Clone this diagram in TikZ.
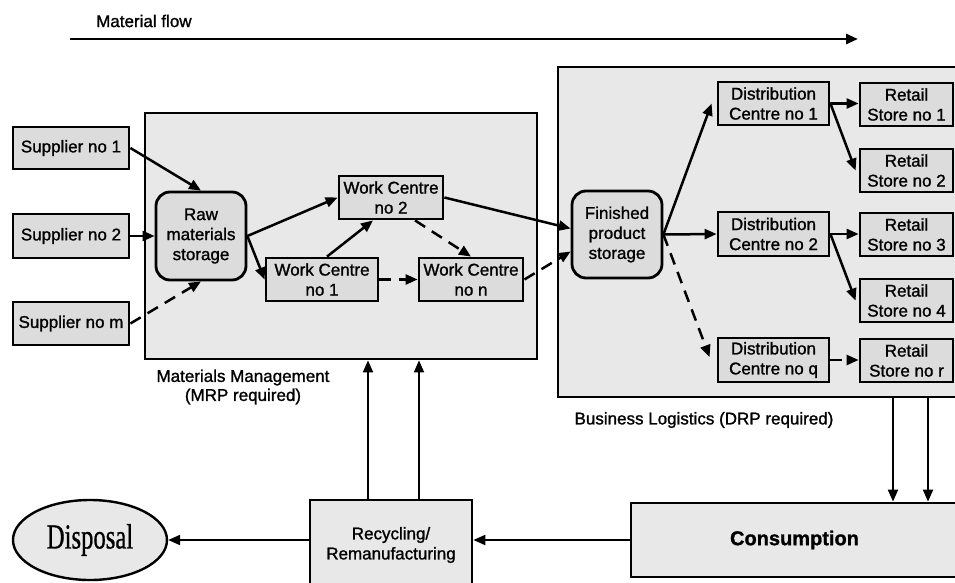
\documentclass[tikz,border=0pt]{standalone}
\usepackage{fontspec}
\setmainfont{Liberation Sans}[FakeBold=1.2]
\newfontfamily\dispfont{Liberation Serif}[FakeBold=0.8]
\usetikzlibrary{arrows.meta,shapes.geometric,calc}
\definecolor{boxbg}{HTML}{E8E8E8}
\definecolor{innerbg}{HTML}{DCDCDC}
\begin{document}
\begin{tikzpicture}[x=1pt,y=-1pt,
  every node/.style={font=\fontsize{17}{20}\selectfont, inner sep=0pt, align=center},
  bigbox/.style={draw, line width=2.8pt, fill=boxbg, rectangle},
  ibox/.style={draw, line width=2.8pt, fill=innerbg, rectangle},
  rbox/.style={ibox, rounded corners=14pt},
  flow/.style={line width=2.5pt, -{Triangle[length=12pt,width=10pt]}},
  thinflow/.style={line width=2pt, -{Triangle[length=12pt,width=10pt]}},
  dflow/.style={flow, dash pattern=on 12pt off 8pt},
  lbl/.style={font=\fontsize{17}{19}\selectfont}
]
\clip (0,0) rectangle (955,583);
\fill[white] (0,0) rectangle (955,583);

% title arrow
\node[lbl, anchor=west] (mft) at (96,21) {Material flow};
\coordinate (mf1) at (70,39);
\coordinate (mf2) at (858,39);
\draw[flow, line width=2.8pt] (mf1) -- (mf2);

% big boxes
\node[bigbox, minimum width=392pt, minimum height=246pt] (MM) at (341,236) {};
\node[bigbox, minimum width=404pt, minimum height=330pt] (BL) at (760,232) {};

% suppliers
\node[ibox, minimum width=116pt, minimum height=42pt] (S1) at (71,148) {Supplier no 1};
\node[ibox, minimum width=116pt, minimum height=44pt] (S2) at (71,236) {Supplier no 2};
\node[ibox, minimum width=116pt, minimum height=43pt] (Sm) at (71,323.5) {Supplier no m};

% materials management
\node[rbox, minimum width=90pt, minimum height=88pt] (Raw) at (201,236) {Raw\\materials\\storage};
\node[ibox, minimum width=104pt, minimum height=43pt] (WC2) at (391,197.5) {Work Centre\\no 2};
\node[ibox, minimum width=112pt, minimum height=43pt] (WC1) at (322,279.5) {Work Centre\\no 1};
\node[ibox, minimum width=104pt, minimum height=43pt] (WCn) at (471,279.5) {Work Centre\\no n};

% business logistics
\node[rbox, minimum width=90pt, minimum height=87pt] (Fin) at (617,234.5) {Finished\\product\\storage};
\node[ibox, minimum width=111pt, minimum height=43pt] (DC1) at (773.5,103.5) {Distribution\\Centre no 1};
\node[ibox, minimum width=111pt, minimum height=44pt] (DC2) at (773.5,234) {Distribution\\Centre no 2};
\node[ibox, minimum width=111pt, minimum height=44pt] (DCq) at (773.5,360) {Distribution\\Centre no q};
\node[ibox, minimum width=93pt, minimum height=43pt] (RS1) at (906.5,104.5) {Retail\\Store no 1};
\node[ibox, minimum width=93pt, minimum height=43pt] (RS2) at (906.5,170.5) {Retail\\Store no 2};
\node[ibox, minimum width=93pt, minimum height=43pt] (RS3) at (906.5,234.5) {Retail\\Store no 3};
\node[ibox, minimum width=93pt, minimum height=43pt] (RS4) at (906.5,300.5) {Retail\\Store no 4};
\node[ibox, minimum width=93pt, minimum height=43pt] (RSr) at (906.5,360.5) {Retail\\Store no r};

% labels
\node[lbl] (mml) at (243,387) {Materials Management\\(MRP required)};
\node[lbl] (bll) at (704,420) {Business Logistics (DRP required)};

% bottom
\node[bigbox, minimum width=162pt, minimum height=90pt] (Rec) at (391,545) {Recycling/\\Remanufacturing};
\node[bigbox, minimum width=327pt, minimum height=74pt, font=\fontsize{20}{24}\selectfont\bfseries] (Cons) at (794.5,540) {Consumption};
\node[draw, ellipse, line width=2.4pt, fill=boxbg, minimum width=154pt, minimum height=80pt] (Disp) at (90,540)
  {\dispfont\fontsize{26}{26}\selectfont\scalebox{0.95}[1.35]{Disposal}};

% supplier connectors
\draw[flow] (S1.east) -- (Raw.north);
\draw[flow] (S2.east) -- (Raw.west);
\draw[dflow] (Sm.east) -- (Raw.south);

% materials management connectors
\draw[flow] (Raw.east) -- (WC2.west);
\draw[flow] (Raw.east) -- (WC1.west);
\draw[flow] ([xshift=5pt]WC1.north) -- ([xshift=-18pt]WC2.south);
\draw[dflow] ([xshift=24pt]WC2.south) -- (WCn.north);
\draw[dflow] (WC1.east) -- (WCn.west);
\draw[flow] (WC2.east) -- ([yshift=6pt]Fin.west);
\draw[dflow] (WCn.east) -- ([yshift=-17pt]Fin.west);

% business logistics connectors
\draw[flow] (Fin.east) -- ([xshift=-5pt]DC1.west);
\draw[flow] (Fin.east) -- (DC2.west);
\draw[dflow] (Fin.east) -- ([xshift=-7pt,yshift=3pt]DCq.west);
\draw[flow] (DC1.east) -- (DC1.east -| RS1.west);
\draw[flow] (DC1.east) -- ([xshift=-3pt]RS2.west);
\draw[flow] (DC2.east) -- (DC2.east -| RS3.west);
\draw[flow] (DC2.east) -- ([xshift=-3pt]RS4.west);
\draw[dflow] (DCq.east) -- (DCq.east -| RSr.west);

% return loop
\coordinate (u1) at (368,0);
\coordinate (u2) at (419,0);
\coordinate (d1) at (893,0);
\coordinate (d2) at (928,0);
\draw[thinflow] (u1 |- Rec.north) -- (u1 |- MM.south);
\draw[thinflow] (u2 |- Rec.north) -- (u2 |- MM.south);
\draw[thinflow] (d1 |- BL.south) -- (d1 |- Cons.north);
\draw[thinflow] (d2 |- BL.south) -- (d2 |- Cons.north);
\draw[thinflow] (Cons.west) -- (Cons.west -| Rec.east);
\draw[thinflow] (Rec.west |- Disp.east) -- (Disp.east);
\end{tikzpicture}
\end{document}
